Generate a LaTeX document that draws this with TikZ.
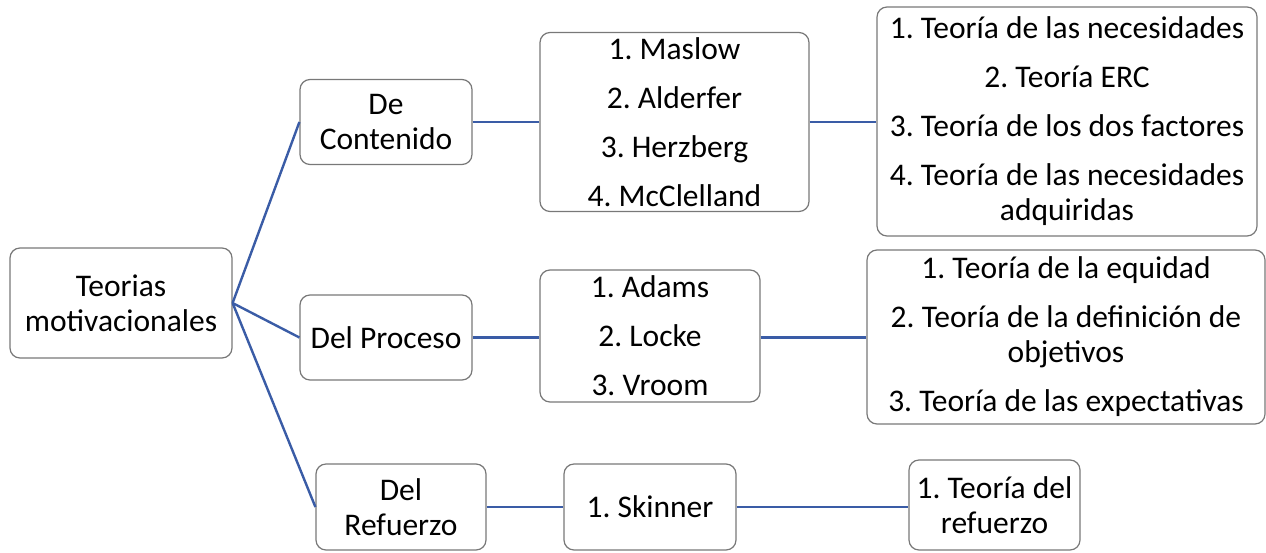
\documentclass[tikz,border=0pt]{standalone}
\usepackage{fontspec}
\setmainfont{Carlito}
\frenchspacing
\begin{document}
\begin{tikzpicture}[x=1pt,y=-1pt,
  box/.style={draw={rgb,255:red,120;green,120;blue,120}, line width=1.2pt,
    rounded corners=10pt, fill=white, align=center, inner sep=0pt,
    font=\fontsize{31.5}{35}\selectfont},
  link/.style={draw={rgb,255:red,58;green,92;blue,166}, line width=2.4pt}]
\useasboundingbox (0,0) rectangle (1266,552);

% root
\node[box, minimum width=222, minimum height=110] (root) at (121,303) {Teorias\\motivacionales};

% first level
\node[box, minimum width=172, minimum height=85] (dc) at (386,122) {De\\Contenido};
\node[box, minimum width=172, minimum height=85] (dp) at (386,337.5) {Del Proceso};
\node[box, minimum width=170, minimum height=86] (dr) at (401,507) {Del\\Refuerzo};

% authors
\node[box, minimum width=269, minimum height=179] (au1) at (674.5,122)
  {1. Maslow\\[14pt]2. Alderfer\\[14pt]3. Herzberg\\[14pt]4. McClelland};
\node[box, minimum width=220, minimum height=132] (au2) at (650,336)
  {1. Adams\\[14pt]2. Locke\\[14pt]3. Vroom};
\node[box, minimum width=172, minimum height=86] (au3) at (650,507) {1. Skinner};

% theories
\node[box, minimum width=380, minimum height=229] (th1) at (1067,121.5)
  {1. Teoría de las necesidades\\[14pt]2. Teoría ERC\\[14pt]3. Teoría de los dos factores\\[14pt]4. Teoría de las necesidades\\adquiridas};
\node[box, minimum width=398, minimum height=174] (th2) at (1066,337)
  {1. Teoría de la equidad\\[14pt]2. Teoría de la definición de\\objetivos\\[14pt]3. Teoría de las expectativas};
\node[box, minimum width=171, minimum height=90] (th3) at (994.5,505) {1. Teoría del\\refuerzo};

% connectors
\draw[link] (root.east) -- (dc.west);
\draw[link] (root.east) -- (dp.west);
\draw[link] (root.east) -- (dr.west);
\draw[link] (dc.east) -- (au1.west);
\draw[link] (au1.east) -- (au1.east -| th1.west);
\draw[link] (dp.east) -- (dp.east -| au2.west);
\draw[link] (au2.east |- dp.east) -- (dp.east -| th2.west);
\draw[link] (dr.east) -- (au3.west);
\draw[link] (au3.east) -- (au3.east -| th3.west);
\end{tikzpicture}
\end{document}
